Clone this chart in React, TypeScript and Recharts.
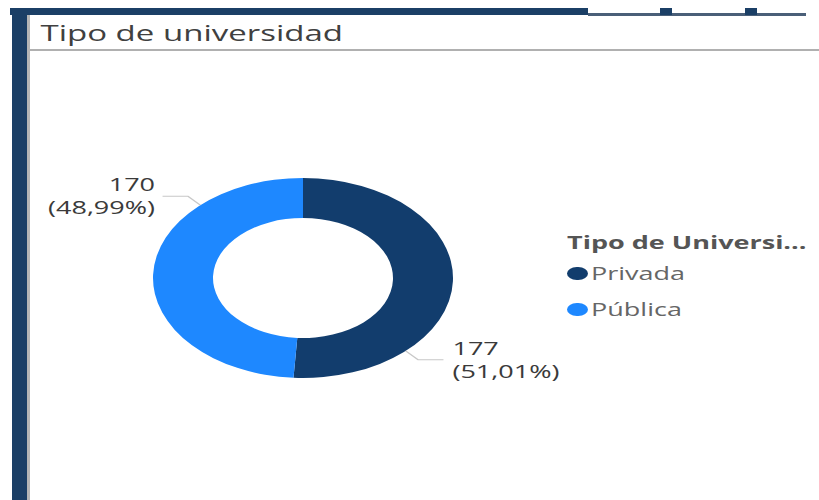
import React from "react";
import { PieChart, Pie, Cell, Legend } from "recharts";

const categories = ["Privada", "Pública"];
const values = [177, 170];
const percentLabels = ["51,01%", "48,99%"];
const colors = ["#123D6D", "#1E88FF"];
const chartTitle = "Tipo de universidad";
const legendTitle = "Tipo de Universi...";

const data = categories.map((name, i) => ({ name, value: values[i], pct: percentLabels[i] }));

const RAD = Math.PI / 180;
const FONT = "'Open Sans', 'Segoe UI', sans-serif";

const renderLabel = (props: any) => {
  const { cx, cy, midAngle, outerRadius, index } = props;
  const ang = midAngle - 45;
  const cos = Math.cos(-ang * RAD);
  const sin = Math.sin(-ang * RAD);
  const sx = cx + outerRadius * cos;
  const sy = cy + outerRadius * sin;
  const ex = cx + (outerRadius + 12) * cos;
  const ey = cy + (outerRadius + 12) * sin;
  const right = cos >= 0;
  const hx = ex + (right ? 17 : -17);
  const tx = hx + (right ? 6 : -5);
  const anchor = right ? "start" : "end";
  const d = data[index];
  return (
    <g>
      <polyline
        points={`${sx},${sy} ${ex},${ey} ${hx},${ey}`}
        fill="none"
        stroke="#c8c8c8"
        strokeWidth={1}
      />
      <text x={tx} y={ey - 5} textAnchor={anchor} fill="#3a3a3a" fontSize={18} fontFamily={FONT}>
        {d.value}
      </text>
      <text x={tx} y={ey + 18} textAnchor={anchor} fill="#3a3a3a" fontSize={18} fontFamily={FONT}>
        ({d.pct})
      </text>
    </g>
  );
};

const renderLegend = (props: any) => {
  const { payload } = props;
  return (
    <div style={{ fontFamily: FONT }}>
      <div style={{ fontSize: 18, fontWeight: 700, color: "#555", lineHeight: "22px", marginBottom: 2 }}>
        {legendTitle}
      </div>
      {(payload || []).map((entry: any, i: number) => (
        <div key={i} style={{ display: "flex", alignItems: "center", height: 36, lineHeight: "22px" }}>
          <span
            style={{
              display: "inline-block",
              width: 14,
              height: 13,
              borderRadius: 7,
              background: entry.color,
              marginRight: 2,
            }}
          />
          <span style={{ fontSize: 18, color: "#666" }}>{entry.value}</span>
        </div>
      ))}
    </div>
  );
};

export default function App() {
  return (
    <div style={{ position: "fixed", left: 0, top: 0, width: 819, height: 500, background: "#fff", overflow: "hidden" }}>
      {/* dashboard frame decorations */}
      <div style={{ position: "absolute", left: 10, top: 8, width: 578, height: 7, background: "#1B3F66" }} />
      <div style={{ position: "absolute", left: 588, top: 13, width: 218, height: 3, background: "#4a5f78" }} />
      <div style={{ position: "absolute", left: 660, top: 8, width: 12, height: 7, background: "#1B3F66" }} />
      <div style={{ position: "absolute", left: 745, top: 8, width: 12, height: 7, background: "#1B3F66" }} />
      <div style={{ position: "absolute", left: 12, top: 8, width: 15, height: 492, background: "#1B3F66" }} />
      <div style={{ position: "absolute", left: 27, top: 15, width: 3, height: 485, background: "#b5b5b5" }} />
      <div
        style={{
          position: "absolute",
          left: 0,
          top: 0,
          width: 546,
          height: 500,
          transform: "scaleX(1.5)",
          transformOrigin: "0 0",
        }}
      >
        <div
          style={{
            position: "absolute",
            left: 27,
            top: 17,
            fontFamily: FONT,
            fontSize: 22,
            color: "#404040",
            lineHeight: "30px",
            whiteSpace: "nowrap",
          }}
        >
          {chartTitle}
        </div>
        <div style={{ position: "absolute", left: 20, top: 49, width: 526, height: 2, background: "#b0b0b0" }} />
        <div style={{ position: "absolute", left: 0, top: 0 }}>
          <PieChart width={546} height={500} margin={{ top: 0, right: 0, bottom: 0, left: 0 }}>
            <Pie
              data={data}
              dataKey="value"
              nameKey="name"
              cx={202}
              cy={278}
              innerRadius={60}
              outerRadius={100}
              startAngle={90}
              endAngle={-270}
              stroke="none"
              label={renderLabel}
              labelLine={false}
              isAnimationActive={false}
            >
              {data.map((d, i) => (
                <Cell key={d.name} fill={colors[i]} />
              ))}
            </Pie>
            <Legend
              layout="vertical"
              content={renderLegend}
              wrapperStyle={{ position: "absolute", left: 378, top: 231, width: 168 }}
            />
          </PieChart>
        </div>
      </div>
    </div>
  );
}
